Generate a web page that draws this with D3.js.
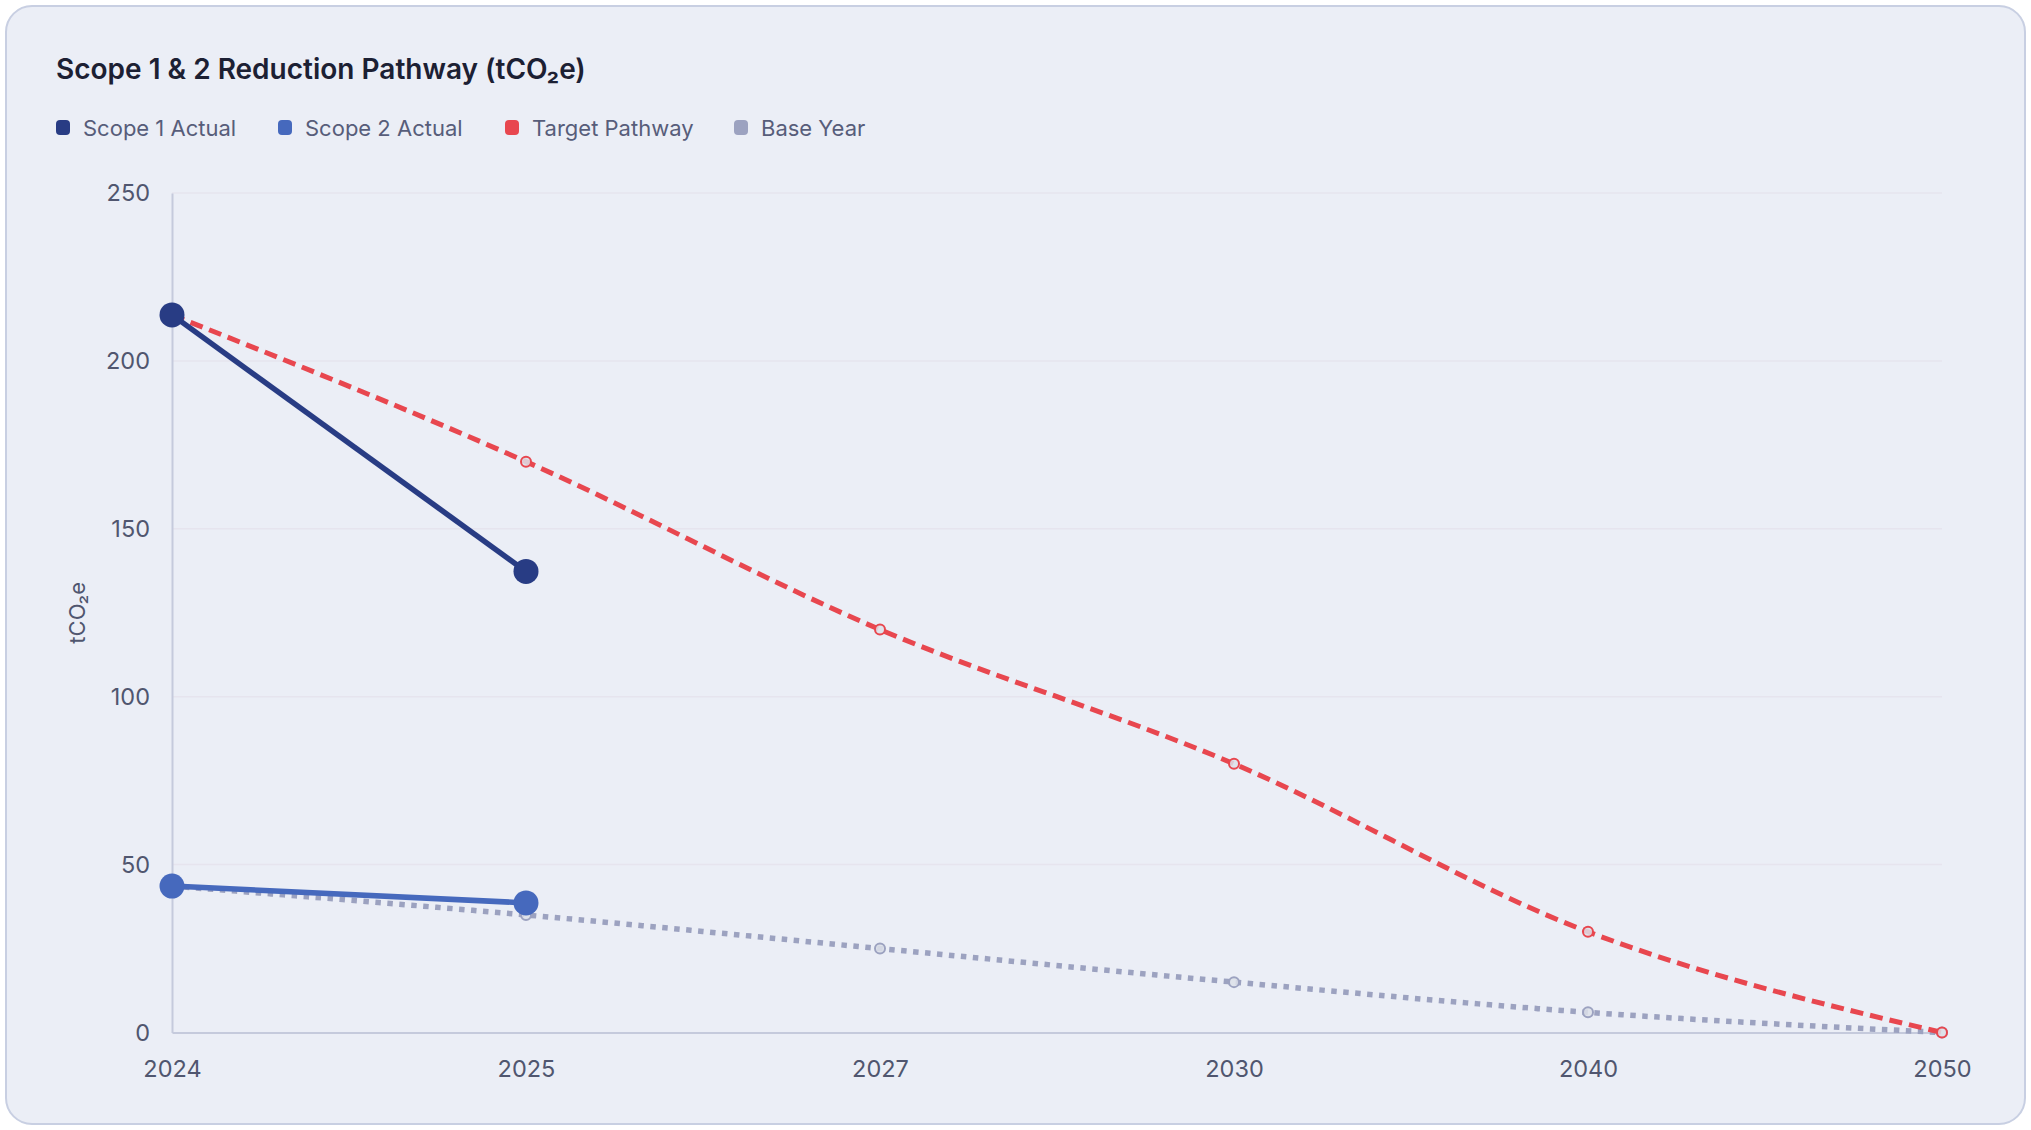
<!DOCTYPE html>
<html>
<head>
<meta charset="utf-8">
<script src="https://cdn.jsdelivr.net/npm/d3@7"></script>
<style>
  html, body { margin: 0; padding: 0; background: #ffffff; }
  body { width: 2031px; height: 1130px; overflow: hidden; font-family: Inter, "Noto Sans", sans-serif; }
</style>
</head>
<body>
<svg id="chart" width="2031" height="1130"></svg>
<script>
// ---- data ----
const years = ["2024", "2025", "2027", "2030", "2040", "2050"];
const scope1Actual = [213.7, 137.3, null, null, null, null];
const scope2Actual = [43.6, 38.6, null, null, null, null];
const targetPathway = [213.7, 170, 120, 80, 30, 0];
const baseYear = [43.6, 35, 25, 15, 6, 0];
const yTicks = [0, 50, 100, 150, 200, 250];
const seriesNames = ["Scope 1 Actual", "Scope 2 Actual", "Target Pathway", "Base Year"];
const seriesColors = ["#283c84", "#4669bd", "#e8474f", "#9ca2c0"];

// ---- layout ----
const svg = d3.select("#chart");
const W = 2031, H = 1130;
const plot = { left: 172, right: 1942, top: 193, bottom: 1032.5 };

// card
svg.append("rect")
  .attr("x", 6).attr("y", 6).attr("width", W - 12).attr("height", H - 12)
  .attr("rx", 26).attr("ry", 26)
  .attr("fill", "#ebeef6").attr("stroke", "#c8cfe2").attr("stroke-width", 2);

// title
svg.append("text")
  .attr("x", 56).attr("y", 79)
  .attr("font-size", 28).attr("font-weight", 600).attr("fill", "#1c2033")
  .text("Scope 1 & 2 Reduction Pathway (tCO₂e)");

// legend
const legendX = [56, 278, 505, 734];
const lg = svg.append("g");
seriesNames.forEach((n, i) => {
  const g = lg.append("g").attr("transform", `translate(${legendX[i]},0)`);
  g.append("rect").attr("x", 0).attr("y", 120).attr("width", 14).attr("height", 15)
    .attr("rx", 4).attr("fill", seriesColors[i]);
  g.append("text").attr("x", 27).attr("y", 136)
    .attr("font-size", 22).attr("fill", "#575d7a").text(n);
});

// scales
const x = d3.scalePoint().domain(years).range([plot.left, plot.right]);
const y = d3.scaleLinear().domain([0, 250]).range([plot.bottom, plot.top]);

// grid
svg.append("g").selectAll("line").data(yTicks.filter(d => d > 0)).join("line")
  .attr("x1", plot.left).attr("x2", plot.right)
  .attr("y1", d => y(d)).attr("y2", d => y(d))
  .attr("stroke", "#e6e4ee").attr("stroke-width", 1.5);

// axes
const yAxis = svg.append("g").attr("transform", `translate(${plot.left},0)`)
  .call(d3.axisLeft(y).tickValues(yTicks).tickSize(0).tickSizeOuter(0).tickPadding(22));
const xAxis = svg.append("g").attr("transform", `translate(0,${plot.bottom})`)
  .call(d3.axisBottom(x).tickSize(0).tickSizeOuter(0).tickPadding(28));
[yAxis, xAxis].forEach(a => {
  a.select(".domain").attr("stroke", "#c5cadc").attr("stroke-width", 2);
  a.selectAll("text").attr("font-size", 23.5).attr("fill", "#50566f")
    .attr("font-family", "Inter, 'Noto Sans', sans-serif");
});

// y axis title
svg.append("text")
  .attr("transform", `translate(85,${(plot.top + plot.bottom) / 2}) rotate(-90)`)
  .attr("text-anchor", "middle")
  .attr("font-size", 22).attr("fill", "#50566f")
  .text("tCO₂e");

// lines
const pts = arr => years.map((yr, i) => ({ yr, v: arr[i] })).filter(d => d.v !== null);
const lineCurve = d3.line().x(d => x(d.yr)).y(d => y(d.v)).curve(d3.curveMonotoneX);

// Base Year (dotted)
svg.append("path").datum(pts(baseYear))
  .attr("d", lineCurve).attr("fill", "none")
  .attr("stroke", seriesColors[3]).attr("stroke-width", 5.5)
  .attr("stroke-dasharray", "5.5 6.5");
svg.append("g").selectAll("circle").data(pts(baseYear)).join("circle")
  .attr("cx", d => x(d.yr)).attr("cy", d => y(d.v)).attr("r", 5)
  .attr("fill", "#dde0e9").attr("fill-opacity", 0.85)
  .attr("stroke", seriesColors[3]).attr("stroke-width", 2);

// Target Pathway (dashed)
svg.append("path").datum(pts(targetPathway))
  .attr("d", lineCurve).attr("fill", "none")
  .attr("stroke", seriesColors[2]).attr("stroke-width", 5)
  .attr("stroke-dasharray", "13 7");
svg.append("g").selectAll("circle").data(pts(targetPathway)).join("circle")
  .attr("cx", d => x(d.yr)).attr("cy", d => y(d.v)).attr("r", 5)
  .attr("fill", "#dde0e9").attr("fill-opacity", 0.85)
  .attr("stroke", seriesColors[2]).attr("stroke-width", 2);

// Scope 2 Actual
svg.append("path").datum(pts(scope2Actual))
  .attr("d", lineCurve).attr("fill", "none")
  .attr("stroke", seriesColors[1]).attr("stroke-width", 5.5);
svg.append("g").selectAll("circle").data(pts(scope2Actual)).join("circle")
  .attr("cx", d => x(d.yr)).attr("cy", d => y(d.v)).attr("r", 12.5)
  .attr("fill", seriesColors[1]);

// Scope 1 Actual
svg.append("path").datum(pts(scope1Actual))
  .attr("d", lineCurve).attr("fill", "none")
  .attr("stroke", seriesColors[0]).attr("stroke-width", 5.5);
svg.append("g").selectAll("circle").data(pts(scope1Actual)).join("circle")
  .attr("cx", d => x(d.yr)).attr("cy", d => y(d.v)).attr("r", 12.5)
  .attr("fill", seriesColors[0]);
</script>
</body>
</html>
